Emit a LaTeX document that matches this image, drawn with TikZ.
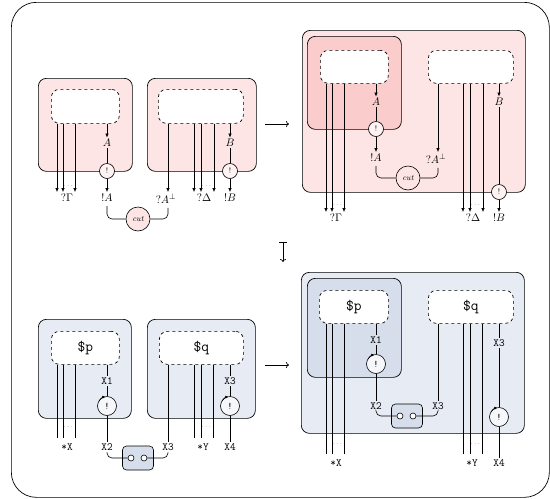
\documentclass[tikz,border=0pt]{standalone}
\usepackage{amsmath,amssymb}
\usepackage{tikz}
\usetikzlibrary{arrows.meta}
\definecolor{netpink}{RGB}{253,229,229}
\definecolor{boxpink}{RGB}{250,204,204}
\definecolor{netblue}{RGB}{231,236,244}
\definecolor{boxblue}{RGB}{214,222,236}

\begin{document}
\begin{tikzpicture}[
    x=1pt, y=-1pt,
    outerframe/.style={draw,line width=0.7pt,rounded corners=25pt,anchor=north west,inner sep=0pt},
    pinkbox/.style={draw,line width=0.7pt,rounded corners=8pt,fill=netpink,anchor=north west,inner sep=0pt},
    bluebox/.style={pinkbox,fill=netblue},
    proof/.style={draw,dashed,line width=0.7pt,rounded corners=8pt,fill=white,anchor=north west,inner sep=0pt,font=\fontsize{15}{17}\selectfont\ttfamily},
    lbl/.style={inner sep=1.5pt,font=\fontsize{11}{13}\selectfont},
    ttlbl/.style={inner sep=1.5pt,font=\fontsize{11}{13}\selectfont\ttfamily},
    bang/.style={circle,draw,line width=0.6pt,fill=netpink!50!white,minimum size=15pt,inner sep=0pt,font=\fontsize{8}{9}\selectfont},
    bigbang/.style={bang,fill=netblue!40!white,minimum size=19pt,font=\fontsize{10}{11}\selectfont\ttfamily},
    cutnode/.style={circle,draw,line width=0.6pt,fill=netpink,minimum size=24pt,inner sep=0pt,font=\fontsize{8}{9}\selectfont\itshape},
    ax/.style={draw,line width=0.6pt,rounded corners=4pt,fill=boxblue,minimum width=31pt,minimum height=24pt},
    port/.style={circle,draw,line width=0.6pt,fill=white,minimum size=6pt,inner sep=0pt},
    dots/.style={inner sep=0pt,font=\tiny},
    wire/.style={line width=0.6pt,-{Latex[length=4pt,width=3.5pt]}},
    link/.style={line width=0.6pt},
    cyc/.style={line width=0.6pt,-{Latex[length=3pt,width=3pt]}},
    morph/.style={line width=0.7pt,-{To[length=3pt,width=6pt]}}
  ]
  \useasboundingbox (0,0) rectangle (550,499);
  \node[outerframe,minimum width=538pt,minimum height=495pt] (frame) at (11,2) {};

  % top left: two boxes and the cut
  \node[pinkbox,minimum width=94pt,minimum height=93pt] (tlL) at (38,78) {};
  \node[pinkbox,minimum width=109pt,minimum height=93pt] (tlR) at (147,78) {};
  \node[proof,minimum width=68pt,minimum height=34pt] (tlP) at (51,89) {};
  \node[proof,minimum width=85pt,minimum height=34pt] (tlQ) at (158,89) {};
  \node[lbl,anchor=north] (tlGam) at (67,192) {$?\Gamma$};
  \node[dots] (tlD1) at (69,186) {$\cdots$};
  \node[lbl] (tlA) at (107,143) {$A$};
  \node[bang] (tlBa) at (107,171) {!};
  \node[lbl,anchor=north] (tlbA) at (107,192) {$!A$};
  \node[lbl,anchor=north] (tlAp) at (166,192) {$?A^{\perp}$};
  \node[lbl,anchor=north] (tlDel) at (204,192) {$?\Delta$};
  \node[dots] (tlD2) at (207,186) {$\cdots$};
  \node[lbl] (tlB) at (230,143) {$B$};
  \node[bang] (tlBb) at (230,171) {!};
  \node[lbl,anchor=north] (tlbB) at (230,192) {$!B$};
  \node[cutnode] (tlCut) at (138,219) {cut};

  \foreach \d in {-10,-4,8}
    \draw[wire] ([xshift=\d pt]tlGam.north |- tlP.south) -- ([xshift=\d pt]tlGam.north);
  \draw[wire] (tlA |- tlP.south) -- (tlA);
  \draw[link] (tlA) -- (tlBa);
  \draw[wire] (tlBa) -- (tlbA);
  \draw[wire] ([xshift=2pt]tlAp.north |- tlQ.south) -- ([xshift=2pt]tlAp.north);
  \foreach \d in {-10,-3,10}
    \draw[wire] ([xshift=\d pt]tlDel.north |- tlQ.south) -- ([xshift=\d pt]tlDel.north);
  \draw[wire] (tlB |- tlQ.south) -- (tlB);
  \draw[link] (tlB) -- (tlBb);
  \draw[wire] (tlBb) -- (tlbB);
  \draw[link,rounded corners=5pt,shorten <=3pt] (tlbA.south) |- (tlCut);
  \draw[link,rounded corners=5pt,shorten >=3pt] (tlCut) -| ([xshift=2pt]tlAp.south);

  % top right: after the step
  \node[pinkbox,minimum width=223pt,minimum height=162pt] (trOut) at (302,30) {};
  \node[pinkbox,fill=boxpink,minimum width=94pt,minimum height=93pt] (trIn) at (307,36) {};
  \node[proof,minimum width=68pt,minimum height=33pt] (trP) at (320,50) {};
  \node[proof,minimum width=85pt,minimum height=33pt] (trQ) at (428,50) {};
  \node[lbl,anchor=north] (trGam) at (336,212) {$?\Gamma$};
  \node[dots] (trD1) at (338,205) {$\cdots$};
  \node[lbl] (trA) at (376,102) {$A$};
  \node[bang] (trBa) at (376,129) {!};
  \node[lbl,anchor=north] (trbA) at (376,152) {$!A$};
  \node[lbl,anchor=north] (trAp) at (436,152) {$?A^{\perp}$};
  \node[cutnode] (trCut) at (408,178) {cut};
  \node[lbl,anchor=north] (trDel) at (473,212) {$?\Delta$};
  \node[dots] (trD2) at (476,205) {$\cdots$};
  \node[lbl] (trB) at (499,102) {$B$};
  \node[bang] (trBb) at (499,192) {!};
  \node[lbl,anchor=north] (trbB) at (499,212) {$!B$};

  \foreach \d in {-10,-4,8}
    \draw[wire] ([xshift=\d pt]trGam.north |- trP.south) -- ([xshift=\d pt]trGam.north);
  \draw[wire] (trA |- trP.south) -- (trA);
  \draw[link] (trA) -- (trBa);
  \draw[wire] (trBa) -- (trbA);
  \draw[wire] ([xshift=2pt]trAp.north |- trQ.south) -- ([xshift=2pt]trAp.north);
  \foreach \d in {-10,-3,10}
    \draw[wire] ([xshift=\d pt]trDel.north |- trQ.south) -- ([xshift=\d pt]trDel.north);
  \draw[wire] (trB |- trQ.south) -- (trB);
  \draw[link] (trB) -- (trBb);
  \draw[wire] (trBb) -- (trbB);
  \draw[link,rounded corners=5pt,shorten <=3pt] (trbA.south) |- (trCut);
  \draw[link,rounded corners=5pt,shorten >=3pt] (trCut) -| ([xshift=2pt]trAp.south);

  % arrows between the panels
  \coordinate (arrTs) at (265,124);
  \coordinate (arrTe) at (289,124);
  \coordinate (arrMs) at (283,242);
  \coordinate (arrMe) at (283,262);
  \coordinate (arrBs) at (265,365);
  \coordinate (arrBe) at (289,365);
  \draw[morph] (arrTs) -- (arrTe);
  \draw[morph,{Bar[width=8pt]}-{To[length=3pt,width=6pt]}] (arrMs) -- (arrMe);
  \draw[morph] (arrBs) -- (arrBe);

  % bottom left: the nets $p and $q
  \node[bluebox,minimum width=93pt,minimum height=99pt] (blL) at (38,319) {};
  \node[bluebox,minimum width=108pt,minimum height=99pt] (blR) at (147,319) {};
  \node[proof,minimum width=68pt,minimum height=33pt] (blP) at (51,331) {\$p};
  \node[proof,minimum width=84pt,minimum height=33pt] (blQ) at (159,331) {\$q};
  \node[ttlbl,anchor=north] (blX) at (67,442) {*X};
  \node[dots] (blD1) at (69,427) {$\cdots$};
  \node[ttlbl] (blX1) at (107,381) {X1};
  \node[bigbang] (blBa) at (107,406) {!};
  \node[ttlbl,anchor=north] (blX2) at (107,442) {X2};
  \node[ax] (blAx) at (138,458) {};
  \node[port] (blPo1) at (131,458) {};
  \node[port] (blPo2) at (144,458) {};
  \node[ttlbl,anchor=north] (blX3) at (168,442) {X3};
  \node[ttlbl,anchor=north] (blY) at (203,442) {*Y};
  \node[dots] (blD2) at (207,427) {$\cdots$};
  \node[ttlbl] (blX3b) at (230,381) {X3};
  \node[bigbang] (blBb) at (230,406) {!};
  \node[ttlbl,anchor=north] (blX4) at (230,442) {X4};

  \foreach \d in {-10,-4,8}
    \draw[link,shorten >=4pt] ([xshift=\d pt]blX.north |- blP.south) -- ([xshift=\d pt]blX.north);
  \draw[link] (blX1 |- blP.south) -- (blX1);
  \draw[link] (blX1) -- (blBa);
  \draw[link] (blBa) -- (blX2);
  \draw[cyc] (blBa.center) ++(150:9.5pt) arc[start angle=150,end angle=100,radius=9.5pt];
  \draw[link] (blX3 |- blQ.south) -- (blX3);
  \foreach \d in {-9,-2,10}
    \draw[link,shorten >=4pt] ([xshift=\d pt]blY.north |- blQ.south) -- ([xshift=\d pt]blY.north);
  \draw[link] (blX3b |- blQ.south) -- (blX3b);
  \draw[link] (blX3b) -- (blBb);
  \draw[link] (blBb) -- (blX4);
  \draw[cyc] (blBb.center) ++(150:9.5pt) arc[start angle=150,end angle=100,radius=9.5pt];
  \draw[link,rounded corners=5pt] (blX2.south) |- (blPo1);
  \draw[link,rounded corners=5pt] (blPo2) -| (blX3.south);

  % bottom right: after the step
  \node[bluebox,minimum width=223pt,minimum height=161pt] (brOut) at (301,272) {};
  \node[bluebox,fill=boxblue,minimum width=94pt,minimum height=99pt] (brIn) at (307,278) {};
  \node[proof,minimum width=69pt,minimum height=33pt] (brP) at (319,290) {\$p};
  \node[proof,minimum width=85pt,minimum height=33pt] (brQ) at (428,290) {\$q};
  \node[ttlbl,anchor=north] (brX) at (336,458) {*X};
  \node[dots] (brD1) at (338,444) {$\cdots$};
  \node[ttlbl] (brX1) at (376,340) {X1};
  \node[bigbang] (brBa) at (376,364) {!};
  \node[ttlbl] (brX2) at (376,406) {X2};
  \node[ax] (brAx) at (407,416) {};
  \node[port] (brPo1) at (400,416) {};
  \node[port] (brPo2) at (413,416) {};
  \node[ttlbl] (brX3) at (438,406) {X3};
  \node[ttlbl,anchor=north] (brY) at (472,458) {*Y};
  \node[dots] (brD2) at (476,444) {$\cdots$};
  \node[ttlbl] (brX3b) at (499,343) {X3};
  \node[bigbang] (brBb) at (499,417) {!};
  \node[ttlbl,anchor=north] (brX4) at (499,458) {X4};

  \foreach \d in {-10,-4,8}
    \draw[link,shorten >=4pt] ([xshift=\d pt]brX.north |- brP.south) -- ([xshift=\d pt]brX.north);
  \draw[link] (brX1 |- brP.south) -- (brX1);
  \draw[link] (brX1) -- (brBa);
  \draw[link] (brBa) -- (brX2);
  \draw[cyc] (brBa.center) ++(150:9.5pt) arc[start angle=150,end angle=100,radius=9.5pt];
  \draw[link] (brX3 |- brQ.south) -- (brX3);
  \foreach \d in {-9,-2,10}
    \draw[link,shorten >=4pt] ([xshift=\d pt]brY.north |- brQ.south) -- ([xshift=\d pt]brY.north);
  \draw[link] (brX3b |- brQ.south) -- (brX3b);
  \draw[link] (brX3b) -- (brBb);
  \draw[link] (brBb) -- (brX4);
  \draw[cyc] (brBb.center) ++(150:9.5pt) arc[start angle=150,end angle=100,radius=9.5pt];
  \draw[link,rounded corners=5pt] (brX2.south) |- (brPo1);
  \draw[link,rounded corners=5pt] (brPo2) -| (brX3.south);
\end{tikzpicture}
\end{document}
